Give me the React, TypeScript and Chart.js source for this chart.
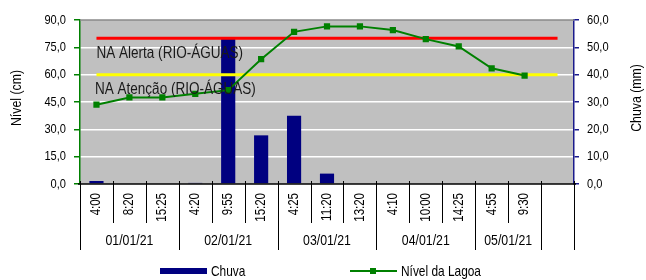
import React, { useEffect, useRef } from 'react';
import { Chart, registerables } from 'chart.js';

Chart.register(...registerables);

const FONT = "'Liberation Sans', Arial, sans-serif";
const NARROW = 0.82;

const timeLabels = ['4:00', '8:20', '15:25', '4:20', '9:55', '15:20', '4:25', '11:20', '13:20', '4:10', '10:00', '14:25', '4:55', '9:30', ''];
const dateLabels = ['01/01/21', '02/01/21', '03/01/21', '04/01/21', '05/01/21', ''];
const dateSpans = [3, 3, 3, 3, 2, 1];

const chuvaMm = [1.1, 0, 0, 0.4, 53.8, 17.8, 25.0, 3.8, 0, 0, 0, 0, 0, 0, null];
const nivelCm = [43.5, 47.5, 47.5, 49.5, 51.5, 68.5, 83.5, 86.5, 86.5, 84.5, 79.5, 75.5, 63.5, 59.5, null];
const naAlerta = [80, 80, 80, 80, 80, 80, 80, 80, 80, 80, 80, 80, 80, 80, 80];
const naAtencao = [60, 60, 60, 60, 60, 60, 60, 60, 60, 60, 60, 60, 60, 60, 60];

const leftMax = 90;
const leftStep = 15;
const rightMax = 60;
const rightStep = 10;

const seriesNames = ['Chuva', 'Nível da Lagoa', 'NA Alerta (RIO-ÁGUAS)', 'NA Atenção (RIO-ÁGUAS)'];
const axisTitles = ['Nível (cm)', 'Chuva (mm)'];

const NAVY = '#000080';
const GREEN = '#008000';

const fmt = (v: number) => v.toFixed(1).replace('.', ',');

function narrowText(ctx: any, text: string, x: number, y: number, size: number, align: string, rot = 0, color = '#000000') {
  ctx.save();
  ctx.font = `${size}px ${FONT}`;
  ctx.fillStyle = color;
  ctx.textAlign = align;
  ctx.textBaseline = 'middle';
  ctx.translate(x, y);
  if (rot) ctx.rotate(rot);
  ctx.scale(NARROW, 1);
  ctx.fillText(text, 0, 0);
  ctx.restore();
}

const decorPlugin = {
  id: 'decor',
  beforeDraw(chart: any) {
    const { ctx, chartArea: a } = chart;
    ctx.save();
    ctx.fillStyle = '#c0c0c0';
    ctx.fillRect(a.left, a.top, a.right - a.left, a.bottom - a.top);
    ctx.restore();
  },
  afterDatasetsDraw(chart: any) {
    const { ctx } = chart;
    const xs = chart.scales.x;
    const ys = chart.scales.y;
    narrowText(ctx, seriesNames[2], xs.getPixelForValue(0), ys.getPixelForValue(naAlerta[0]) + 15.5, 16.5, 'left', 0, '#1a1a1a');
    narrowText(ctx, seriesNames[3], xs.getPixelForValue(0) - 1.5, ys.getPixelForValue(naAtencao[0]) + 15, 16.5, 'left', 0, '#1a1a1a');
  },
  afterDraw(chart: any) {
    const { ctx, chartArea: a } = chart;
    const xs = chart.scales.x;
    const ys = chart.scales.y;
    const ys1 = chart.scales.y1;
    const n = timeLabels.length;
    const cw = (a.right - a.left) / n;
    const bottom = a.bottom;
    ctx.save();
    // top border
    ctx.strokeStyle = '#8a8a8a';
    ctx.lineWidth = 1.5;
    ctx.beginPath();
    ctx.moveTo(a.left, a.top);
    ctx.lineTo(a.right, a.top);
    ctx.stroke();
    // x axis line
    ctx.strokeStyle = '#000000';
    ctx.lineWidth = 1.5;
    ctx.beginPath();
    ctx.moveTo(a.left - 2, bottom);
    ctx.lineTo(a.right + 2, bottom);
    ctx.stroke();
    // separators
    const groupBounds = new Set<number>();
    let acc = 0;
    groupBounds.add(0);
    dateSpans.forEach((s) => { acc += s; groupBounds.add(acc); });
    ctx.lineWidth = 1;
    for (let i = 0; i <= n; i++) {
      const x = Math.round(a.left + i * cw) + 0.5;
      ctx.beginPath();
      ctx.moveTo(x, bottom - 3);
      ctx.lineTo(x, groupBounds.has(i) ? bottom + 66 : bottom + 39);
      ctx.stroke();
    }
    ctx.restore();
    // time labels
    for (let i = 0; i < n; i++) {
      narrowText(ctx, timeLabels[i], xs.getPixelForValue(i), bottom + 9, 14, 'right', -Math.PI / 2);
    }
    // date labels
    let start = 0;
    dateSpans.forEach((s, gi) => {
      narrowText(ctx, dateLabels[gi], a.left + (start + s / 2) * cw, bottom + 57, 15, 'center');
      start += s;
    });
    // y tick labels
    ys.ticks.forEach((t: any) => {
      narrowText(ctx, fmt(t.value), a.left - 14, ys.getPixelForValue(t.value), 13.5, 'right');
    });
    ys1.ticks.forEach((t: any) => {
      narrowText(ctx, fmt(t.value), a.right + 13, ys1.getPixelForValue(t.value), 13.5, 'left');
    });
    // axis titles
    narrowText(ctx, axisTitles[0], 17, (a.top + a.bottom) / 2 - 4, 15, 'center', -Math.PI / 2);
    narrowText(ctx, axisTitles[1], 637, (a.top + a.bottom) / 2 - 4, 15, 'center', -Math.PI / 2);
    // legend
    const ly = 271;
    ctx.save();
    ctx.fillStyle = NAVY;
    ctx.fillRect(160, ly - 3, 47, 6);
    ctx.strokeStyle = GREEN;
    ctx.lineWidth = 2;
    ctx.beginPath();
    ctx.moveTo(350, ly);
    ctx.lineTo(397, ly);
    ctx.stroke();
    ctx.fillStyle = GREEN;
    ctx.fillRect(370, ly - 3, 6, 6);
    ctx.restore();
    narrowText(ctx, seriesNames[0], 211, ly + 1, 14.5, 'left');
    narrowText(ctx, seriesNames[1], 401, ly + 1, 14.5, 'left');
  },
};

export default function App() {
  const ref = useRef<HTMLCanvasElement | null>(null);

  useEffect(() => {
    if (!ref.current) return;
    const chart = new Chart(ref.current, {
      type: 'bar',
      data: {
        labels: timeLabels,
        datasets: [
          {
            type: 'line',
            label: seriesNames[2],
            data: naAlerta,
            yAxisID: 'y',
            borderColor: '#ff0000',
            borderWidth: 3,
            pointRadius: 0,
            order: 1,
          },
          {
            type: 'line',
            label: seriesNames[3],
            data: naAtencao,
            yAxisID: 'y',
            borderColor: '#ffff00',
            borderWidth: 3,
            pointRadius: 0,
            order: 1,
          },
          {
            type: 'line',
            label: seriesNames[1],
            data: nivelCm,
            yAxisID: 'y',
            borderColor: GREEN,
            backgroundColor: GREEN,
            borderWidth: 2,
            pointStyle: 'rect',
            pointRadius: 4.4,
            pointBorderWidth: 0,
            tension: 0,
            order: 0,
          },
          {
            type: 'bar',
            label: seriesNames[0],
            data: chuvaMm,
            yAxisID: 'y1',
            backgroundColor: NAVY,
            borderWidth: 0,
            barPercentage: 0.43,
            categoryPercentage: 1,
            order: 2,
          },
        ],
      } as any,
      options: {
        animation: false,
        responsive: false,
        devicePixelRatio: 1,
        layout: { padding: { top: 20, left: 0, right: 0, bottom: 0 } },
        plugins: { legend: { display: false }, tooltip: { enabled: false } },
        scales: {
          x: {
            type: 'category',
            offset: true,
            grid: { display: false },
            border: { display: false },
            ticks: { display: false },
            afterFit: (s: any) => { s.height = 96; },
          },
          y: {
            position: 'left',
            min: 0,
            max: leftMax,
            ticks: { stepSize: leftStep, display: false },
            grid: {
              color: (c: any) => (c.tick && (c.tick.value === 0 || c.tick.value === leftMax) ? 'rgba(0,0,0,0)' : '#ffffff'),
              tickColor: GREEN,
              tickLength: 6,
              lineWidth: 1.5,
            },
            border: { color: GREEN, width: 1.5 },
            afterFit: (s: any) => { s.width = 80; },
          },
          y1: {
            position: 'right',
            min: 0,
            max: rightMax,
            ticks: { stepSize: rightStep, display: false },
            grid: { drawOnChartArea: false, tickColor: '#1a1a8c', tickLength: 5, lineWidth: 1.5 },
            border: { color: '#1a1a8c', width: 1.5 },
            afterFit: (s: any) => { s.width = 72; },
          },
        },
      } as any,
      plugins: [decorPlugin],
    });
    return () => chart.destroy();
  }, []);

  return (
    <div style={{ position: 'absolute', left: 0, top: 0, width: 646, height: 280, background: '#ffffff' }}>
      <canvas ref={ref} width={646} height={280} style={{ width: 646, height: 280, display: 'block' }} />
    </div>
  );
}
